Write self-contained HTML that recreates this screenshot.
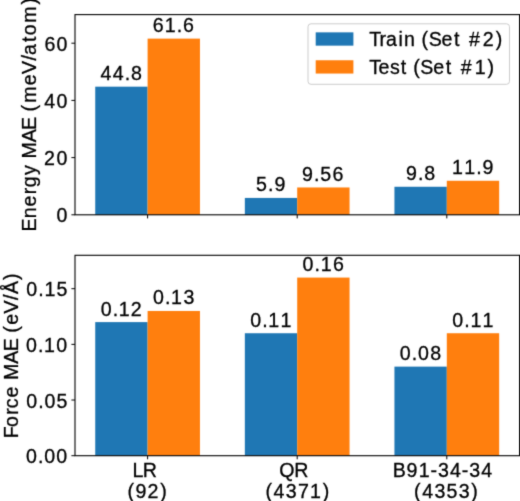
<!DOCTYPE html>
<html><head><meta charset="utf-8"><style>
html,body{margin:0;padding:0;background:#fff;}
svg{display:block;}
text{font-family:"Liberation Sans", sans-serif;font-size:19.6px;fill:#000;font-kerning:none;stroke:#000;stroke-width:0.30px;}
</style></head><body>
<svg width="520" height="501" viewBox="0 0 520 501">
<defs><filter id="bl" x="0" y="0" width="520" height="501" filterUnits="userSpaceOnUse" color-interpolation-filters="sRGB"><feConvolveMatrix order="3" edgeMode="duplicate" kernelMatrix="0.0225 0.0900 0.0225 0.0900 0.5500 0.0900 0.0225 0.0900 0.0225"/></filter></defs>
<rect width="520" height="501" fill="#fff"/>
<g filter="url(#bl)">
<rect width="520" height="501" fill="#fff"/>
<rect x="95.24" y="86.67" width="52.36" height="128.13" fill="#1f77b4"/>
<rect x="147.60" y="38.62" width="52.36" height="176.18" fill="#ff7f0e"/>
<rect x="244.84" y="197.93" width="52.36" height="16.87" fill="#1f77b4"/>
<rect x="297.20" y="187.46" width="52.36" height="27.34" fill="#ff7f0e"/>
<rect x="394.44" y="186.77" width="52.36" height="28.03" fill="#1f77b4"/>
<rect x="446.80" y="180.77" width="52.36" height="34.03" fill="#ff7f0e"/>
<rect x="95.24" y="322.10" width="52.36" height="133.60" fill="#1f77b4"/>
<rect x="147.60" y="310.97" width="52.36" height="144.73" fill="#ff7f0e"/>
<rect x="244.84" y="333.23" width="52.36" height="122.47" fill="#1f77b4"/>
<rect x="297.20" y="277.57" width="52.36" height="178.13" fill="#ff7f0e"/>
<rect x="394.44" y="366.63" width="52.36" height="89.07" fill="#1f77b4"/>
<rect x="446.80" y="333.23" width="52.36" height="122.47" fill="#ff7f0e"/>
<path d="M147.60 214.80v3.60 M297.20 214.80v3.60 M446.80 214.80v3.60 M147.60 455.70v3.60 M297.20 455.70v3.60 M446.80 455.70v3.60 M75.00 214.80h-3.60 M75.00 157.60h-3.60 M75.00 100.40h-3.60 M75.00 43.20h-3.60 M75.00 455.70h-3.60 M75.00 400.03h-3.60 M75.00 344.37h-3.60 M75.00 288.70h-3.60" stroke="#000" stroke-width="1.0" fill="none"/>
<rect x="75.00" y="14.60" width="444.60" height="200.20" fill="none" stroke="#000" stroke-width="1.1"/>
<rect x="75.00" y="255.30" width="444.60" height="200.40" fill="none" stroke="#000" stroke-width="1.1"/>
<rect x="308.0" y="23.8" width="201.50" height="60.50" rx="3" fill="#fff" fill-opacity="0.8" stroke="#ccc" stroke-width="1.0"/>
<rect x="315.7" y="32.35" width="37.70" height="13.3" fill="#1f77b4"/>
<rect x="315.7" y="60.25" width="37.70" height="13.3" fill="#ff7f0e"/>
<text x="56.60" y="222.25">0</text>
<text x="44.12 56.60" y="165.05">20</text>
<text x="44.37 56.60" y="107.85">40</text>
<text x="44.43 56.60" y="50.65">60</text>
<text x="25.96 37.98 44.24 56.35" y="463.25">0.00</text>
<text x="26.34 38.35 44.61 56.59" y="407.58">0.05</text>
<text x="25.96 37.98 44.12 56.35" y="351.92">0.10</text>
<text x="26.34 38.35 44.49 56.59" y="296.25">0.15</text>
<text x="100.60 112.82 124.71 131.04" y="80.07">44.8</text>
<text x="152.71 164.75 176.76 183.09" y="32.02">61.6</text>
<text x="100.63 112.64 118.78 130.76" y="315.50">0.12</text>
<text x="152.95 164.96 171.10 183.39" y="304.37">0.13</text>
<text x="255.98 268.11 274.38" y="191.33">5.9</text>
<text x="302.06 314.07 320.21 332.50" y="180.86">9.56</text>
<text x="250.17 262.18 268.32 280.42" y="326.63">0.11</text>
<text x="302.61 314.62 320.76 333.05" y="270.97">0.16</text>
<text x="406.02 418.04 424.36" y="180.17">9.8</text>
<text x="452.11 464.34 476.36 482.62" y="174.17">11.9</text>
<text x="399.69 411.70 417.97 430.13" y="360.03">0.08</text>
<text x="452.30 464.31 470.45 482.55" y="326.63">0.11</text>
<text x="132.50 142.67" y="477.30">LR</text>
<text x="127.42 135.49 147.47 160.28" y="498.30">(92)</text>
<text x="279.31 294.32" y="477.30">QR</text>
<text x="265.45 273.52 285.81 297.98 309.95 322.65" y="498.30">(4371)</text>
<text x="392.84 406.57 418.67 430.61 437.88 450.04 461.86 469.24 481.28" y="477.30">B91-34-34</text>
<text x="414.10 422.17 434.46 446.50 458.79 471.30" y="498.30">(4353)</text>
<text x="369.37 379.46 385.98 398.62 404.01 414.93 421.45 428.64 441.62 453.88 459.33 468.98 482.87 495.68" y="46.00">Train (Set #2)</text>
<text x="369.37 378.39 389.88 400.65 406.10 413.30 420.37 433.35 445.73 451.18 460.82 474.84 487.41" y="73.90">Test (Set #1)</text>
<text transform="translate(36.30 0) rotate(-90)" x="-231.53 -218.31 -206.52 -194.21 -187.34 -175.12 -165.31 -158.59 -142.31 -129.92 -116.83 -111.41 -102.84 -85.13 -73.92 -60.40 -54.91 -41.96 -35.18 -22.72 -4.53" y="0">Energy MAE (meV/atom)</text>
<text transform="translate(18.30 0) rotate(-90)" x="-438.25 -427.00 -414.75 -408.15 -397.42 -386.50 -380.03 -363.80 -351.35 -338.26 -332.64 -324.75 -313.60 -300.03 -294.08 -280.08" y="0">Force MAE (eV/Å)</text>
</g>
</svg>
</body></html>
